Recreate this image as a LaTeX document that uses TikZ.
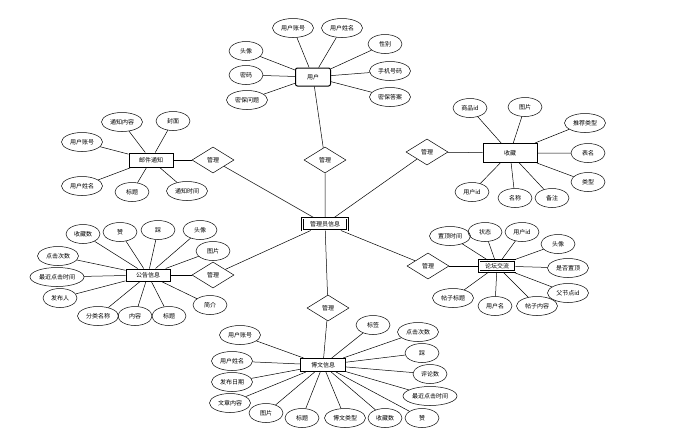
\documentclass[tikz,border=0pt]{standalone}
\usepackage{fontspec}
\newfontfamily\cjk{Noto Sans CJK SC}
\usetikzlibrary{shapes.geometric}

\tikzset{
    attr/.style={draw, ellipse, minimum width=34pt, minimum height=19pt, inner sep=0pt, font=\cjk\fontsize{6}{7}\selectfont},
    wattr/.style={attr, minimum width=41pt},
    xattr/.style={attr, minimum width=54pt},
    entity/.style={draw, line width=1pt, minimum height=13pt, inner sep=0pt, font=\cjk\fontsize{6}{7}\selectfont},
    rel/.style={draw, diamond, minimum width=42pt, minimum height=26pt, inner sep=0pt, font=\cjk\fontsize{6}{7}\selectfont},
}

\begin{document}
\begin{tikzpicture}[x=1pt, y=-1pt, line width=0.5pt]
    \useasboundingbox (0,0) rectangle (686,437);

    % centre
    \node[entity, double, minimum width=45pt, minimum height=12pt] (admin) at (325,224) {管理员信息};
    \node[rel] (rtop) at (325,160) {管理};
    \node[rel] (rbot) at (328,308) {管理};
    \node[rel] (rlu) at (213,160) {管理};
    \node[rel] (rll) at (213,275) {管理};
    \node[rel] (rru) at (427,152) {管理};
    \node[rel] (rrl) at (428,266) {管理};
    \draw (admin) -- (rtop) (admin) -- (rbot) (admin) -- (rlu) (admin) -- (rll) (admin) -- (rru) (admin) -- (rrl);

    % user
    \node[entity, rounded corners=2pt, minimum width=35pt, minimum height=18pt] (user) at (313,77) {用户};
    \node[wattr] (uacc) at (293,28) {用户账号};
    \node[wattr] (uname) at (342,28) {用户姓名};
    \node[attr] (usex) at (385,44) {性别};
    \node[wattr] (uphone) at (390,71) {手机号码};
    \node[wattr] (uans) at (390,97) {密保答案};
    \node[attr] (uhead) at (246,51) {头像};
    \node[attr] (upwd) at (246,75) {密码};
    \node[wattr] (uques) at (247,100) {密保问题};
    \draw (uacc) -- (user) (uname) -- (user) (usex) -- (user) (uphone) -- (user) (uans) -- (user)
        (uhead) -- (user) (upwd) -- (user) (uques) -- (user);
    \draw (user) -- (rtop);

    % mail notice
    \node[entity, minimum width=44pt, minimum height=14pt] (mail) at (151,160) {邮件通知};
    \node[wattr] (mtext) at (122,122) {通知内容};
    \node[attr] (mcover) at (173,121) {封面};
    \node[wattr] (macc) at (82,142) {用户账号};
    \node[wattr] (mname) at (82,186) {用户姓名};
    \node[attr] (mtitle) at (132,192) {标题};
    \node[wattr] (mtime) at (187,191) {通知时间};
    \draw (mtext) -- (mail) (mcover) -- (mail) (macc) -- (mail) (mname) -- (mail) (mtitle) -- (mail) (mtime) -- (mail);
    \draw (mail) -- (rlu);

    % favourites
    \node[entity, minimum width=54pt, minimum height=19pt] (fav) at (510,153) {收藏};
    \node[attr] (fgid) at (470,108) {商品id};
    \node[attr] (fpic) at (525,107) {图片};
    \node[wattr] (frec) at (585,123) {推荐类型};
    \node[attr] (ftab) at (588,153) {表名};
    \node[attr] (ftype) at (588,182) {类型};
    \node[attr] (fnote) at (552,198) {备注};
    \node[attr] (fname) at (515,198) {名称};
    \node[attr] (fuid) at (472,192) {用户id};
    \draw (fgid) -- (fav) (fpic) -- (fav) (frec) -- (fav) (ftab) -- (fav) (ftype) -- (fav)
        (fnote) -- (fav) (fname) -- (fav) (fuid) -- (fav);
    \draw (fav) -- (rru);

    % notices
    \node[entity, minimum width=44pt, minimum height=12pt] (news) at (148,275) {公告信息};
    \node[attr] (nfav) at (83,234) {收藏数};
    \node[attr] (nup) at (120,232) {赞};
    \node[attr] (ndown) at (158,230) {踩};
    \node[attr] (nhead) at (200,230) {头像};
    \node[attr] (npic) at (213,251) {图片};
    \node[wattr] (nclick) at (58,256) {点击次数};
    \node[xattr] (nlast) at (57,277) {最近点击时间};
    \node[attr] (nauth) at (60,298) {发布人};
    \node[wattr] (ncat) at (98,316) {分类名称};
    \node[attr] (ntext) at (135,316) {内容};
    \node[attr] (ntitle) at (169,316) {标题};
    \node[attr] (nintro) at (210,305) {简介};
    \draw (nfav) -- (news) (nup) -- (news) (ndown) -- (news) (nhead) -- (news) (npic) -- (news) (nclick) -- (news)
        (nlast) -- (news) (nauth) -- (news) (ncat) -- (news) (ntext) -- (news) (ntitle) -- (news) (nintro) -- (news);
    \draw (news) -- (rll);

    % forum
    \node[entity, double, minimum width=36pt, minimum height=11pt] (forum) at (497,266) {论坛交流};
    \node[wattr] (ftop) at (450,236) {置顶时间};
    \node[attr] (fstate) at (485,232) {状态};
    \node[attr] (fuser) at (522,232) {用户id};
    \node[attr] (fhead) at (558,244) {头像};
    \node[wattr] (fistop) at (568,268) {是否置顶};
    \node[wattr] (fpid) at (568,293) {父节点id};
    \node[wattr] (fbody) at (537,306) {帖子内容};
    \node[attr] (funame) at (495,306) {用户名};
    \node[wattr] (fsubj) at (453,298) {帖子标题};
    \draw (ftop) -- (forum) (fstate) -- (forum) (fuser) -- (forum) (fhead) -- (forum) (fistop) -- (forum)
        (fpid) -- (forum) (fbody) -- (forum) (funame) -- (forum) (fsubj) -- (forum);
    \draw (forum) -- (rrl);

    % blog
    \node[entity, minimum width=45pt, minimum height=13pt] (blog) at (323,365) {博文信息};
    \node[wattr] (bacc) at (240,335) {用户账号};
    \node[wattr] (bname) at (232,361) {用户姓名};
    \node[wattr] (bdate) at (232,382) {发布日期};
    \node[wattr] (btext) at (230,403) {文章内容};
    \node[attr] (bpic) at (266,413) {图片};
    \node[attr] (btitle) at (302,418) {标题};
    \node[wattr] (btype) at (345,418) {博文类型};
    \node[attr] (bfav) at (385,418) {收藏数};
    \node[attr] (bup) at (422,418) {赞};
    \node[xattr] (blast) at (430,396) {最近点击时间};
    \node[attr] (bcom) at (430,374) {评论数};
    \node[attr] (bdown) at (422,353) {踩};
    \node[wattr] (bclick) at (418,332) {点击次数};
    \node[attr] (btag) at (373,325) {标签};
    \draw (bacc) -- (blog) (bname) -- (blog) (bdate) -- (blog) (btext) -- (blog) (bpic) -- (blog) (btitle) -- (blog) (btype) -- (blog)
        (bfav) -- (blog) (bup) -- (blog) (blast) -- (blog) (bcom) -- (blog) (bdown) -- (blog) (bclick) -- (blog) (btag) -- (blog);
    \draw (blog) -- (rbot);
\end{tikzpicture}
\end{document}
